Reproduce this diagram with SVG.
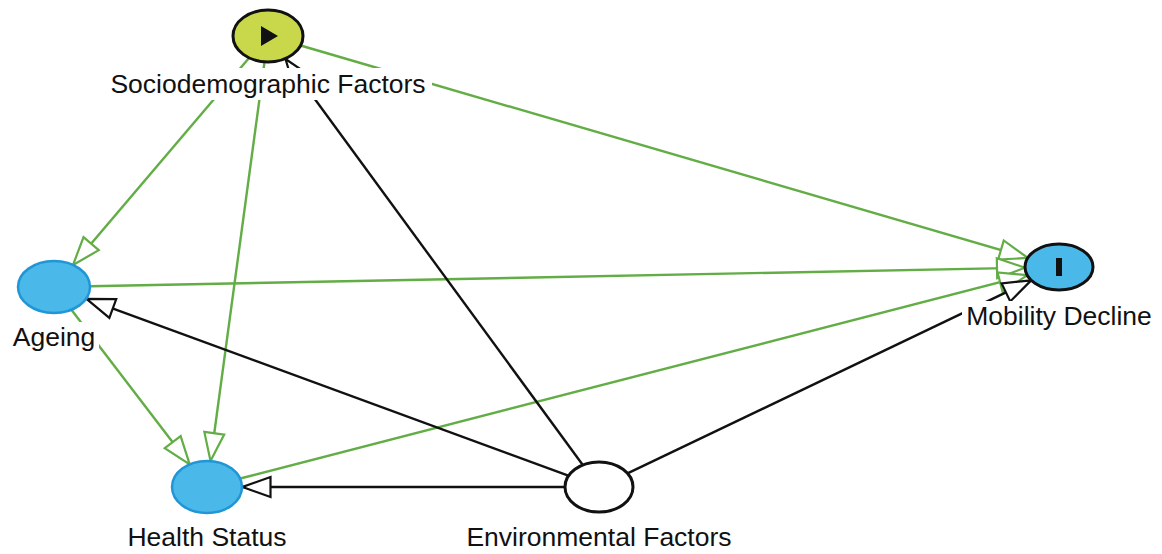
<svg xmlns="http://www.w3.org/2000/svg" width="1162" height="554" viewBox="0 0 1162 554">
<defs>
<style>
.eg{stroke:#62ad45;stroke-width:2.4;fill:none}
.eb{stroke:#111;stroke-width:2.4;fill:none}
.lbl{font-family:"Liberation Sans",Arial,sans-serif;font-size:26.5px;fill:#111;text-anchor:middle}
.bg{fill:#fff}
.blue{fill:#4ab8e8;stroke:#2196d6;stroke-width:2.5}
</style>
<marker id="ag" viewBox="-31 -12 33 24" refX="0" refY="0" markerWidth="33" markerHeight="24" markerUnits="userSpaceOnUse" orient="auto">
<path d="M0,0 L-28,-10 L-28,10 Z" fill="#fff" stroke="#62ad45" stroke-width="2.2"/>
</marker>
<marker id="ab" viewBox="-31 -12 33 24" refX="0" refY="0" markerWidth="33" markerHeight="24" markerUnits="userSpaceOnUse" orient="auto">
<path d="M0,0 L-28,-10 L-28,10 Z" fill="#fff" stroke="#111" stroke-width="2.2"/>
</marker>
</defs>
<rect width="1162" height="554" fill="#fff"/>
<g id="connectors">
<line class="eg" x1="249" y1="58" x2="73" y2="265" marker-end="url(#ag)"/>
<line class="eg" x1="264.5" y1="62" x2="210.5" y2="461" marker-end="url(#ag)"/>
<line class="eg" x1="300.6" y1="45.5" x2="1027.8" y2="257.9" marker-end="url(#ag)"/>
<line class="eg" x1="90" y1="286.3" x2="1025" y2="267.7" marker-end="url(#ag)"/>
<line class="eg" x1="71.4" y1="309.8" x2="189.7" y2="464.4" marker-end="url(#ag)"/>
<line class="eg" x1="240.1" y1="478.5" x2="1027.2" y2="275.2" marker-end="url(#ag)"/>
<line class="eb" x1="582.8" y1="465" x2="285.5" y2="59" marker-end="url(#ab)"/>
<line class="eb" x1="569" y1="475.8" x2="86.5" y2="298.8" marker-end="url(#ab)"/>
<line class="eb" x1="565" y1="487" x2="242.5" y2="487" marker-end="url(#ab)"/>
<line class="eb" x1="627.5" y1="473.4" x2="1031.2" y2="280.3" marker-end="url(#ab)"/>
</g>
<g id="node-sociodemographic">
<ellipse cx="268" cy="36" rx="35" ry="26" fill="#c8d84a" stroke="#111" stroke-width="3"/>
<path d="M261,26 L261,46 L278,36 Z" fill="#111"/>
<rect class="bg" x="106" y="68" width="326" height="32"/>
<text class="lbl" x="268" y="93">Sociodemographic Factors</text>
</g>
<g id="node-mobility">
<ellipse cx="1059" cy="267" rx="34" ry="23" fill="#4ab8e8" stroke="#111" stroke-width="3"/>
<rect x="1056" y="258" width="6" height="18" fill="#111"/>
<rect class="bg" x="962" y="301" width="194" height="31"/>
<text class="lbl" x="1059" y="325">Mobility Decline</text>
</g>
<g id="node-ageing">
<ellipse class="blue" cx="54" cy="287" rx="36" ry="26"/>
<rect class="bg" x="10" y="322" width="89" height="31"/>
<text class="lbl" x="54" y="346">Ageing</text>
</g>
<g id="node-health">
<ellipse class="blue" cx="207" cy="487" rx="35" ry="26"/>
<rect class="bg" x="124" y="522" width="166" height="31"/>
<text class="lbl" x="207" y="546">Health Status</text>
</g>
<g id="node-environmental">
<ellipse cx="599" cy="487" rx="34" ry="25" fill="#fff" stroke="#111" stroke-width="3"/>
<rect class="bg" x="463" y="522" width="272" height="31"/>
<text class="lbl" x="599" y="546">Environmental Factors</text>
</g>
</svg>
